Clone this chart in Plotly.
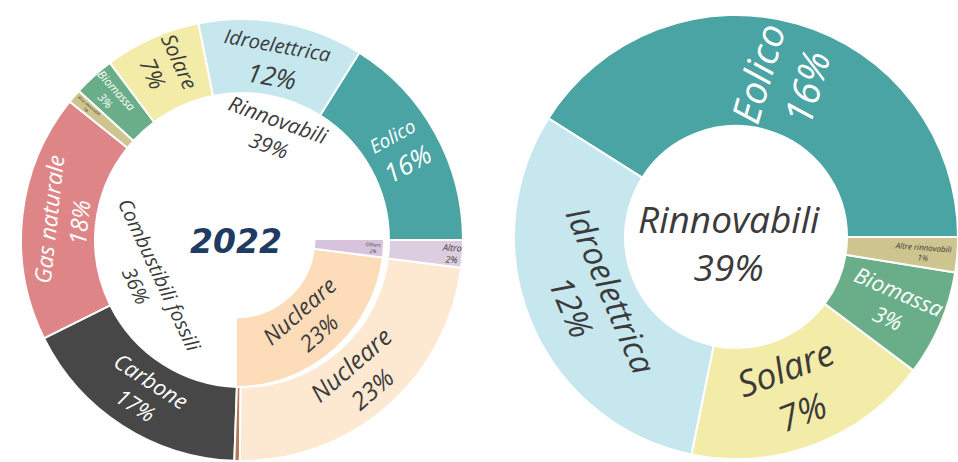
import math
import plotly.graph_objects as go

W, H = 958, 462
FONT = "Open Sans"
DARK = "#3b3b3b"
LIGHT = "#ffffff"
CLEAR = "rgba(255,255,255,0)"

# ---- 2022 electricity mix: sources (outer ring) ----
src_labels = ["Eolico", "Idroelettrica", "Solare", "Biomassa", "Altre rinnovabili",
              "Gas naturale", "Carbone", "Petrolio", "Nucleare", "Altro"]
src_values = [16, 12, 7, 3, 1, 18, 17, 0.4, 23, 2]
src_colors = ["#4aa4a3", "#c6e7ee", "#f3eca8", "#69ae88", "#cdc48f",
              "#de8687", "#474747", "#b7795b", "#fde9d2", "#ddcde1"]

# ---- groups (inner ring) ----
grp_labels = ["Nucleare", "Others", "Rinnovabili", "Combustibili fossili"]
grp_values = [23, 2, 39, 36]
grp_colors = ["#fcdcb9", "#d7c4dc", CLEAR, CLEAR]

# ---- renewables detail (right donut) ----
ren_labels = ["Eolico", "Idroelettrica", "Solare", "Biomassa", "Altre rinnovabili"]
ren_values = [16, 12, 7, 3, 1]
ren_colors = ["#4aa4a3", "#c6e7ee", "#f3eca8", "#69ae88", "#cdc48f"]

center_year = "2022"
ren_total = 39


def label_text(name, value, s_name, s_pct):
    if s_name == 0:
        return ""
    return (f"<span style='font-size:{s_name}px'>{name}</span><br>"
            f"<span style='font-size:{s_pct}px'>{value:g}%</span>")


def domain(cx, cy, r):
    return dict(x=[max(0, (cx - r) / W), min(1, (cx + r) / W)],
                y=[max(0, 1 - (cy + r) / H), min(1, 1 - (cy - r) / H)])


def ring(labels, values, colors, cx, cy, r, hole, start, sizes, orient, tcolors, widths):
    dom = domain(cx, cy, r)
    # counterclockwise pies anchor the end of the first slice at `rotation`;
    # shift so the first slice begins at `start` (degrees ccw from 3 o'clock)
    rot = (90 - start) - 360.0 * values[0] / sum(values)
    common = dict(labels=labels, values=values, domain=dom, hole=hole, sort=False,
                  direction="counterclockwise", rotation=rot, showlegend=False,
                  textposition="inside")
    base = go.Pie(**common, marker=dict(colors=colors,
                                        line=dict(color="white", width=widths)),
                  textinfo="none", hoverinfo="label+percent")
    overlays = []
    for mode, key in (("radial", "r"), ("tangential", "t")):
        texts = [label_text(n, v, s[0], s[1]) if o == key else ""
                 for n, v, s, o in zip(labels, values, sizes, orient)]
        overlays.append(go.Pie(**common,
                               marker=dict(colors=[CLEAR] * len(labels),
                                           line=dict(width=0)),
                               text=texts, textinfo="text", hoverinfo="skip",
                               insidetextorientation=mode,
                               insidetextfont=dict(family=FONT, style="italic",
                                                   size=[max(s) if max(s) else 1 for s in sizes],
                                                   color=tcolors)))
    return [base], overlays


def slice_mid(values, idx, start):
    """Mid angle (deg, ccw from 3 o'clock) of slice idx."""
    tot = float(sum(values))
    before = sum(values[:idx])
    return (start + 360.0 * (before + values[idx] / 2.0) / tot) % 360


def upright(angle):
    """Fold a text angle into (-90, 90] so it stays readable."""
    a = (angle + 180) % 360 - 180
    if a > 90:
        a -= 180
    elif a <= -90:
        a += 180
    return a


# orientation codes: r/t = pie text (radial/tangential);
# R/T = rotated annotation placed along the slice (radial/tangential)
src_sizes = [(19, 26), (20, 26), (21, 23), (12, 12), (4, 4),
             (23, 24), (22, 22), (0, 0), (27, 27), (10, 10)]
src_orient = ["r", "t", "R", "r", "r", "t", "t", "r", "t", "r"]
src_tcol = [LIGHT, DARK, DARK, LIGHT, DARK, LIGHT, LIGHT, DARK, DARK, DARK]
src_pos = {2: 0.56}

grp_sizes = [(25, 25), (5, 5), (21, 21), (20, 20)]
grp_orient = ["t", "r", "T", "T"]
grp_tcol = [DARK, DARK, DARK, DARK]
grp_pos = {2: 0.5, 3: 0.27}

ren_sizes = [(39, 39), (33, 33), (36, 36), (22, 22), (8, 8)]
ren_orient = ["r", "t", "t", "r", "r"]
ren_tcol = [LIGHT, DARK, DARK, LIGHT, DARK]

IN = dict(cx=236, cy=239, r=148, hole=0.53, start=270)
OUT = dict(cx=242, cy=240, r=221, hole=0.665, start=0)
REN = dict(cx=736, cy=237, r=222, hole=0.5, start=0)

in_base, in_txt = ring(grp_labels, grp_values, grp_colors, IN["cx"], IN["cy"], IN["r"],
                       IN["hole"], IN["start"], grp_sizes, grp_orient, grp_tcol,
                       [2 if c != CLEAR else 0 for c in grp_colors])
out_base, out_txt = ring(src_labels, src_values, src_colors, OUT["cx"], OUT["cy"], OUT["r"],
                         OUT["hole"], OUT["start"], src_sizes, src_orient, src_tcol, 2)
ren_base, ren_txt = ring(ren_labels, ren_values, ren_colors, REN["cx"], REN["cy"], REN["r"],
                         REN["hole"], REN["start"], ren_sizes, ren_orient, ren_tcol, 2)

fig = go.Figure(in_base + out_base + ren_base + in_txt + out_txt + ren_txt)


def slice_annotations(g, labels, values, sizes, orient, tcolors, pos):
    r_in = g["r"] * g["hole"]
    for i, o in enumerate(orient):
        if o not in ("R", "T"):
            continue
        mid = slice_mid(values, i, g["start"])
        rm = r_in + (g["r"] - r_in) * pos.get(i, 0.5)
        px = g["cx"] + rm * math.cos(math.radians(mid))
        py = g["cy"] - rm * math.sin(math.radians(mid))
        ang = upright(90 - mid) if o == "T" else upright(-mid)
        fig.add_annotation(x=px / W, y=1 - py / H, xref="paper", yref="paper",
                           xanchor="center", yanchor="middle", showarrow=False,
                           textangle=ang,
                           text=label_text(labels[i], values[i], *sizes[i]),
                           font=dict(family=FONT, style="italic",
                                     size=max(sizes[i]), color=tcolors[i]))


slice_annotations(IN, grp_labels, grp_values, grp_sizes, grp_orient, grp_tcol, grp_pos)
slice_annotations(OUT, src_labels, src_values, src_sizes, src_orient, src_tcol, src_pos)

fig.add_annotation(x=236 / W, y=1 - 241 / H, xref="paper", yref="paper",
                   xanchor="center", yanchor="middle",
                   text=f"<b><i>{center_year}</i></b>", showarrow=False,
                   font=dict(family="DejaVu Sans", size=33, color="#1f3a63"))
fig.add_annotation(x=729 / W, y=1 - 242 / H, xref="paper", yref="paper",
                   xanchor="center", yanchor="middle",
                   text=f"Rinnovabili<br>{ren_total}%", showarrow=False,
                   font=dict(family=FONT, style="italic", size=37, color=DARK))

fig.update_layout(width=W, height=H, margin=dict(l=0, r=0, t=0, b=0),
                  paper_bgcolor="white", plot_bgcolor="white")
fig.write_html("out.html")
